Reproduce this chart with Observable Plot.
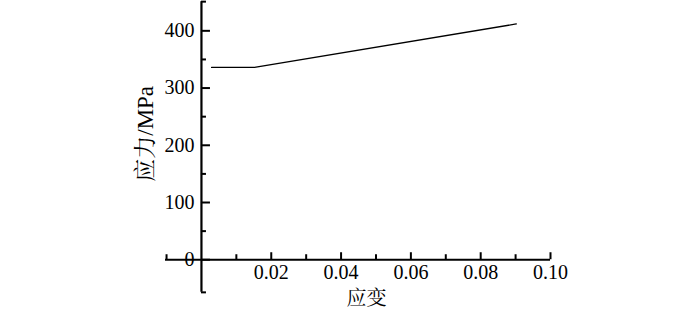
<!DOCTYPE html>
<html>
<head>
<meta charset="utf-8">
<script src="https://cdn.jsdelivr.net/npm/d3@7"></script>
<script src="https://cdn.jsdelivr.net/npm/@observablehq/plot@0.6"></script>
<style>
  html, body { margin: 0; padding: 0; background: #fff; }
  #chart svg { display: block; overflow: visible; }
</style>
</head>
<body>
<div id="chart"></div>
<script>
// Data
const strain = [0.0029, 0.0152, 0.0902];
const stress = [336, 336, 412];

// Axis ticks and labels
const yMajorTicks = [0, 100, 200, 300, 400];
const yMinorTicks = [-57, 50, 150, 250, 350, 451];
const xMajorTicks = [0.02, 0.04, 0.06, 0.08, 0.10];
const xMinorTicks = [-0.01, 0.01, 0.03, 0.05, 0.07, 0.09];
const xTickLabels = ["0.02", "0.04", "0.06", "0.08", "0.10"];
const yTickLabels = ["0", "100", "200", "300", "400"];
const xTitle = "应变";
const yTitle = "应力/MPa";

const xDomain = [-0.0103, 0.10];
const yDomain = [-59, 453];

const curve = strain.map((s, i) => ({strain: s, stress: stress[i]}));
const font = "'Liberation Serif', 'Times New Roman', 'Noto Serif CJK SC', 'Noto Sans CJK SC', serif";

// tick lengths in data units (x: ~3485 px per unit, y: ~0.572 px per unit)
const yMajLen = 9 / 3485, yMinLen = 5 / 3485;
const xMajLen = 7 / 0.572, xMinLen = 5 / 0.572;

const chart = Plot.plot({
  width: 700,
  height: 309,
  marginLeft: 165,
  marginRight: 150,
  marginTop: 0,
  marginBottom: 16,
  style: {fontFamily: font, fontSize: "20px", color: "#000", background: "#fff"},
  x: {type: "linear", domain: xDomain, axis: null},
  y: {type: "linear", domain: yDomain, axis: null},
  marks: [
    // axis lines
    Plot.ruleX([0], {y1: -57, y2: 451, stroke: "#000", strokeWidth: 2.2}),
    Plot.ruleY([0], {x1: xDomain[0], x2: xDomain[1], stroke: "#000", strokeWidth: 2.2}),
    // y ticks pointing right
    Plot.ruleY(yMajorTicks, {y: d => d, x1: 0, x2: yMajLen, stroke: "#000", strokeWidth: 2}),
    Plot.ruleY(yMinorTicks, {y: d => d, x1: 0, x2: yMinLen, stroke: "#000", strokeWidth: 2}),
    // x ticks pointing up
    Plot.ruleX(xMajorTicks, {x: d => d, y1: 0, y2: xMajLen, stroke: "#000", strokeWidth: 2}),
    Plot.ruleX(xMinorTicks, {x: d => d, y1: 0, y2: xMinLen, stroke: "#000", strokeWidth: 2}),
    // tick labels
    Plot.text(xTickLabels, {x: (d, i) => xMajorTicks[i], y: 0, text: d => d, dy: 13, lineAnchor: "middle", fill: "#000", fontSize: 20}),
    Plot.text(yTickLabels, {y: (d, i) => yMajorTicks[i], x: 0, text: d => d, dx: -7, textAnchor: "end", lineAnchor: "middle", fill: "#000", fontSize: 20}),
    // data line
    Plot.line(curve, {x: "strain", y: "stress", stroke: "#000", strokeWidth: 1.3}),
    // titles
    Plot.text([xTitle], {frameAnchor: "bottom", x: 0.0473, dy: 5, textAnchor: "middle", lineAnchor: "middle", fill: "#000", fontSize: 20}),
    Plot.text([yTitle], {frameAnchor: "left", rotate: -90, dx: -20, y: 220, textAnchor: "middle", lineAnchor: "middle", fill: "#000", fontSize: 23})
  ]
});

document.getElementById("chart").appendChild(chart);
</script>
</body>
</html>
